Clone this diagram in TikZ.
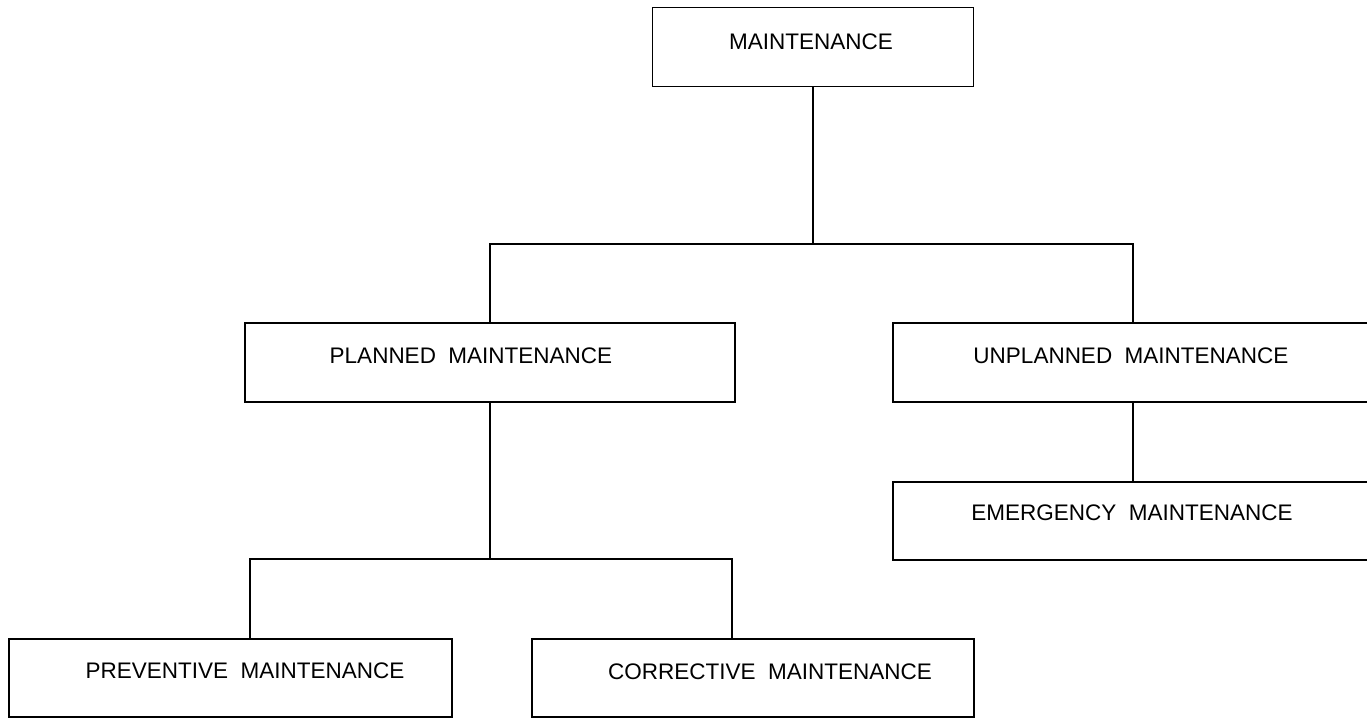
\documentclass[tikz,border=0pt]{standalone}
\usepackage{fontspec}
\setmainfont{Liberation Sans}
\usepackage{tikz}
\usetikzlibrary{positioning}

\begin{document}
\begin{tikzpicture}[x=1pt, y=-1pt,
    box/.style={draw=black, line width=1.8pt, outer sep=0pt, inner sep=0pt, minimum height=79pt},
    lbl/.style={inner sep=0pt, font=\fontsize{22.5}{27}\selectfont}]
  \useasboundingbox (0,0) rectangle (1367,718);
  % boxes
  \node[box, minimum width=321pt] (mnt) at (813,47) {};
  \node[box, minimum width=490pt] (plan) at (490,362.5) {};
  \node[box, minimum width=483pt] (unpl) at (1134.5,362.5) {};
  \node[box, minimum width=483pt, minimum height=78pt] (emer) at (1134.5,521) {};
  \node[box, minimum width=443pt, minimum height=78pt] (prev) at (230.5,678) {};
  \node[box, minimum width=442pt, minimum height=78pt] (corr) at (753,678) {};
  % texts
  \node[lbl] (mntT) at (811,42) {MAINTENANCE};
  \node[lbl] (planT) at (471,356) {PLANNED\ \ MAINTENANCE};
  \node[lbl] (unplT) at (1131,356) {UNPLANNED\ \ MAINTENANCE};
  \node[lbl] (emerT) at (1132,513) {EMERGENCY\ \ MAINTENANCE};
  \node[lbl] (prevT) at (245,671) {PREVENTIVE\ \ MAINTENANCE};
  \node[lbl] (corrT) at (770,672) {CORRECTIVE\ \ MAINTENANCE};
  % connectors
  \coordinate (t1) at (490,244);
  \coordinate (t2) at (1133,244);
  \coordinate (b1) at (250,559);
  \coordinate (b2) at (732,559);
  \draw[black, line width=1.8pt] (mnt.south) -- (mnt.south |- t1);
  \draw[black, line width=1.8pt] (plan.north) -- (t1) -- (t2) -- (unpl.north -| t2);
  \draw[black, line width=1.8pt] (unpl.south -| t2) -- (emer.north -| t2);
  \draw[black, line width=1.8pt] (plan.south) -- (plan.south |- b1);
  \draw[black, line width=1.8pt] (prev.north -| b1) -- (b1) -- (b2) -- (corr.north -| b2);
\end{tikzpicture}
\end{document}
